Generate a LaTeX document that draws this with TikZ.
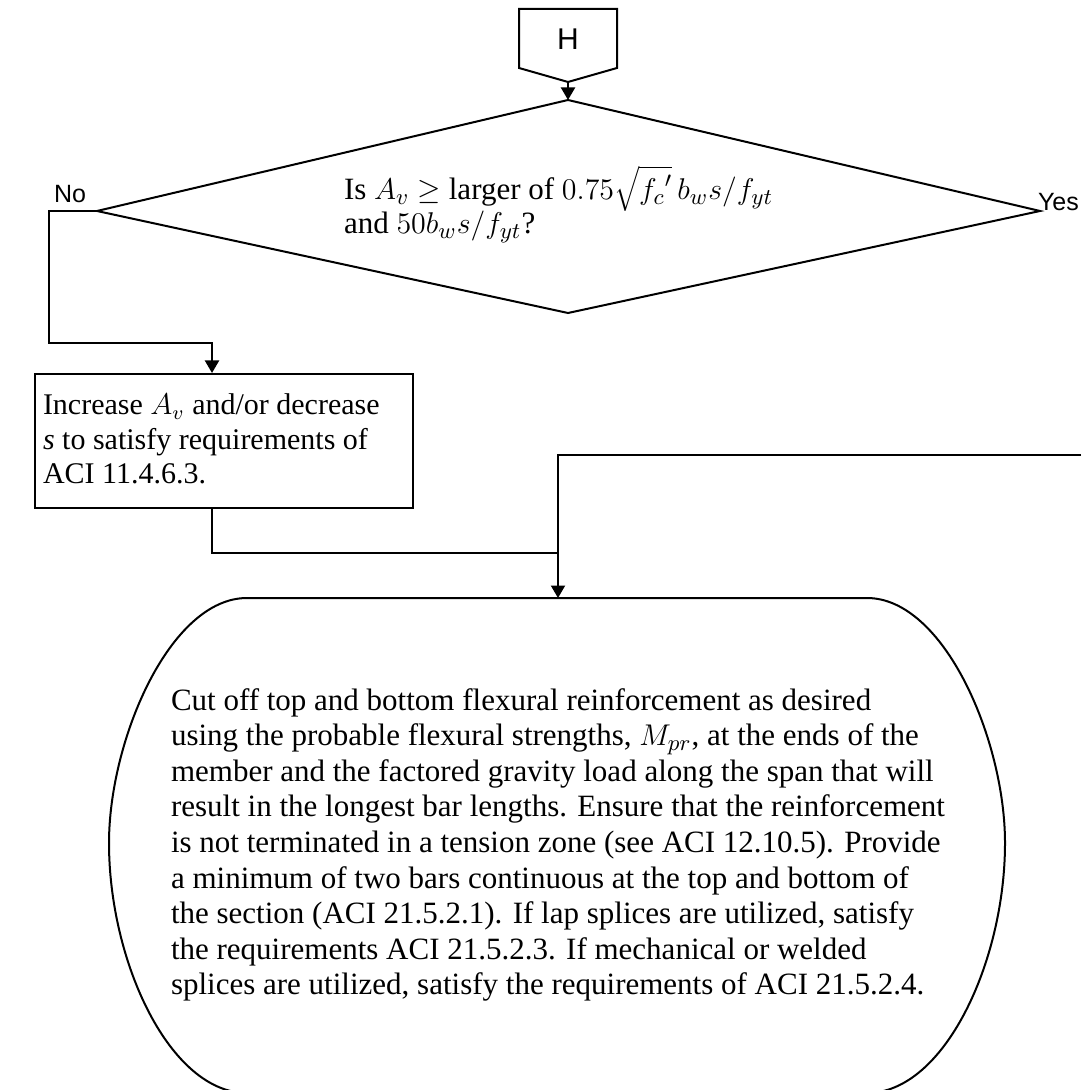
\documentclass[tikz,border=0pt]{standalone}
\usepackage{fontspec}
\setmainfont{Liberation Serif}
\newfontfamily\arialfont{Liberation Sans}
\usetikzlibrary{arrows.meta}
\begin{document}
\begin{tikzpicture}[x=0.4pt,y=-0.4pt, line width=0.8pt,
  conn/.style={-{Triangle[width=5.6pt,length=5pt]}},
  bodytext/.style={font=\fontsize{12.4}{14.24}\selectfont, align=left, inner sep=0pt},
  recttext/.style={font=\fontsize{12}{13.8}\selectfont, align=left, inner sep=0pt},
  qtext/.style={font=\fontsize{12.4}{13.6}\selectfont, inner sep=0pt},
  lbl/.style={font=\arialfont\fontsize{10}{12}\selectfont, inner sep=0pt}]
\useasboundingbox (0,0) rectangle (1081,1090);

% off-page connector H
\coordinate (Htl) at (519,9);
\coordinate (Htr) at (617,9);
\coordinate (Hbr) at (617,68);
\coordinate (Hbot) at (568,82);
\coordinate (Hbl) at (519,68);
\draw (Htl) -- (Htr) -- (Hbr) -- (Hbot) -- (Hbl) -- cycle;
\node[font=\arialfont\fontsize{12}{14}\selectfont, inner sep=0pt] (H) at (568,39) {H};

% decision diamond
\coordinate (dT) at (568,100);
\coordinate (dR) at (1040,211);
\coordinate (dB) at (568,313);
\coordinate (dL) at (97,211);
\draw (dT) -- (dR) -- (dB) -- (dL) -- cycle;
\node[qtext, anchor=base west] (q1) at (343,200) {Is $A_v \geq$ larger of $0.75\smash{\sqrt{{f_c}'}}\,b_w s/f_{yt}$};
\node[qtext, anchor=base west] (q2) at (343,234) {and $50b_w s/f_{yt}$?};
\node[lbl, anchor=base west] (no) at (53,203) {No};
\node[lbl, anchor=base west] (yes) at (1037,211) {Yes};

\draw[conn] (Hbot) -- (dT);

% rectangle
\node[draw, minimum width=151.2pt, minimum height=53.6pt, anchor=north west, inner sep=0pt] (rect) at (34,373) {};
\node[recttext, anchor=west] (rtext) at (42,439) {Increase $A_v$ and/or decrease\\\textit{s} to satisfy requirements of\\ACI 11.4.6.3.};

\coordinate (noX) at (212,343);
\coordinate (noL) at (49,211);
\draw[conn] (dL) -- (noL) |- (noX) -- (noX |- rect.north);

% merge
\coordinate (join) at (558,553);
\coordinate (yesIn) at (1081,455);
\coordinate (endTop) at (558,598);
\draw (rect.south -| noX) |- (join);
\draw[conn] (yesIn) -| (endTop);

% terminal shape
\draw (247,598) -- (endTop) -- (867,598)
  .. controls (944,598) and (1005,740) .. (1005,843)
  .. controls (1005,962) and (944,1093) .. (867,1093)
  -- (247,1093)
  .. controls (170,1093) and (109,962) .. (109,843)
  .. controls (109,740) and (170,598) .. (247,598) -- cycle;
\node[bodytext, anchor=west] (body) at (170,845) {Cut off top and bottom flexural reinforcement as desired\\
using the probable flexural strengths, $M_{pr}$, at the ends of the\\
member and the factored gravity load along the span that will\\
result in the longest bar lengths. Ensure that the reinforcement\\
is not terminated in a tension zone (see ACI 12.10.5). Provide\\
a minimum of two bars continuous at the top and bottom of\\
the section (ACI 21.5.2.1). If lap splices are utilized, satisfy\\
the requirements ACI 21.5.2.3. If mechanical or welded\\
splices are utilized, satisfy the requirements of ACI 21.5.2.4.};
\end{tikzpicture}
\end{document}
